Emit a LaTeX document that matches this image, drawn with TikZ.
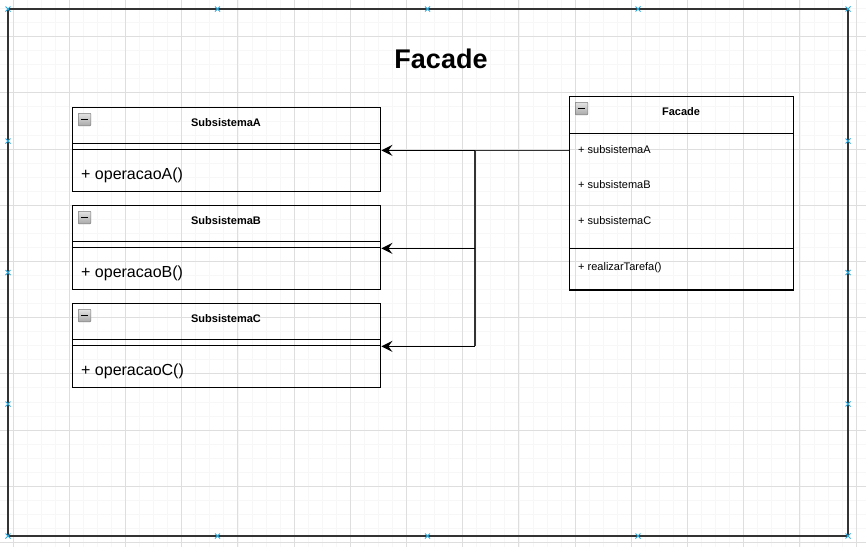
\documentclass[tikz,border=0pt]{standalone}
\usepackage{fontspec}
\setmainfont{Liberation Sans}
\usetikzlibrary{arrows.meta}
\definecolor{gridmajor}{HTML}{DEDEDE}
\definecolor{gridminor}{HTML}{F7F7F7}
\definecolor{framecol}{HTML}{333333}
\definecolor{handle}{HTML}{29A9E0}
\definecolor{iconfill}{HTML}{BBBBBB}
\definecolor{iconedge}{HTML}{7A7A7A}
\tikzset{
  box/.style={draw=black, line width=1.4pt, inner sep=0pt, anchor=north west, minimum width=308pt},
  fbox/.style={draw=black, line width=1.4pt, inner sep=0pt, anchor=north west, minimum width=224pt},
  headtxt/.style={font=\fontsize{11}{13}\selectfont\bfseries, inner sep=0pt},
  optxt/.style={font=\fontsize{16}{19}\selectfont, inner sep=0pt, anchor=west},
  attrtxt/.style={font=\fontsize{11}{13}\selectfont, inner sep=0pt, anchor=west},
  conn/.style={draw=framecol, line width=1.4pt},
  arr/.style={draw=black, line width=1.4pt, -{Stealth[length=11pt,width=11pt,inset=4pt]}},
  minusicon/.style={draw=iconedge, line width=0.6pt, top color=iconfill!40, bottom color=iconfill!90!black, minimum size=12.5pt, inner sep=0pt, anchor=north west, rounded corners=0.8pt,
    path picture={\draw[black, line width=1.8pt] ([xshift=3pt]path picture bounding box.west) -- ([xshift=-3pt]path picture bounding box.east);}},
  gmajor/.style={draw=gridmajor, line width=0.8pt},
  gminor/.style={draw=gridminor, line width=0.6pt},
  handlemark/.style={draw=handle, line width=0.8pt},
}
\begin{document}
\begin{tikzpicture}[x=1pt,y=-1pt]
\useasboundingbox (0,0) rectangle (866,547);
\fill[white] (0,0) rectangle (866,547);
% grid
\foreach \i in {-1,...,62} {
  \draw[gminor] ({13+\i*14.05},0) -- ++(0,547);
}
\foreach \i in {-3,...,38} {
  \draw[gminor] (0,{36.5+\i*14.05}) -- ++(866,0);
}
\foreach \i in {-1,...,15} {
  \draw[gmajor] ({13+\i*56.2},0) -- ++(0,547);
}
\foreach \i in {-1,...,9} {
  \draw[gmajor] (0,{36.5+\i*56.2}) -- ++(866,0);
}
% frame
\draw[framecol, line width=2pt] (8,9) rectangle (848,536);
\foreach \hx in {8,217.5,427.5,638,848} {
  \foreach \hy in {9,536} {
    \draw[handlemark] (\hx-2.5,\hy-2.5) -- (\hx+2.5,\hy+2.5) (\hx-2.5,\hy+2.5) -- (\hx+2.5,\hy-2.5);
  }
}
\foreach \hy in {141,272.5,404} {
  \foreach \hx in {8,848} {
    \draw[handlemark] (\hx-2.5,\hy-2.5) -- (\hx+2.5,\hy+2.5) (\hx-2.5,\hy+2.5) -- (\hx+2.5,\hy-2.5);
  }
}
% title
\node[font=\fontsize{27}{31}\selectfont\bfseries, inner sep=0pt] (title) at (441,59) {Facade};

% Subsistema A
\node[box, minimum height=36pt] (subAhead) at (72,107) {};
\node[box, minimum height=6pt] (subAattr) at (72,143) {};
\node[box, minimum height=42pt] (subAops) at (72,149) {};
\node[minusicon] (subAicon) at (78,113) {};
\node[headtxt] (subAname) at (226,123) {SubsistemaA};
\node[optxt] (subAop) at (81,175) {+ operacaoA()};

% Subsistema B
\node[box, minimum height=36pt] (subBhead) at (72,205) {};
\node[box, minimum height=6pt] (subBattr) at (72,241) {};
\node[box, minimum height=42pt] (subBops) at (72,247) {};
\node[minusicon] (subBicon) at (78,211) {};
\node[headtxt] (subBname) at (226,221) {SubsistemaB};
\node[optxt] (subBop) at (81,273) {+ operacaoB()};

% Subsistema C
\node[box, minimum height=36pt] (subChead) at (72,303) {};
\node[box, minimum height=6pt] (subCattr) at (72,339) {};
\node[box, minimum height=42pt] (subCops) at (72,345) {};
\node[minusicon] (subCicon) at (78,309) {};
\node[headtxt] (subCname) at (226,319) {SubsistemaC};
\node[optxt] (subCop) at (81,371) {+ operacaoC()};

% Facade class
\node[fbox, minimum height=36.7pt] (facHead) at (569,96) {};
\node[fbox, minimum height=115pt] (facAttrs) at (569,132.7) {};
\node[fbox, minimum height=41.6pt] (facOps) at (569,247.7) {};
\node[minusicon] (facIcon) at (575,102) {};
\node[headtxt] (facName) at (681,112) {Facade};
\node[attrtxt] (attrA) at (578,149.5) {+ subsistemaA};
\node[attrtxt] (attrB) at (578,185) {+ subsistemaB};
\node[attrtxt] (attrC) at (578,221) {+ subsistemaC};
\node[attrtxt] (facOp) at (578,268) {+ realizarTarefa()};

% connectors
\coordinate (jx) at (475,0);
\draw[conn] (subAattr.south -| facAttrs.west) -- (subAattr.south -| jx);
\draw[conn] (subAattr.south -| jx) -- (subCattr.south -| jx);
\draw[arr] (subAattr.south -| jx) -- (subAattr.south east);
\draw[arr] (subBattr.south -| jx) -- (subBattr.south east);
\draw[arr] (subCattr.south -| jx) -- (subCattr.south east);
\end{tikzpicture}
\end{document}
